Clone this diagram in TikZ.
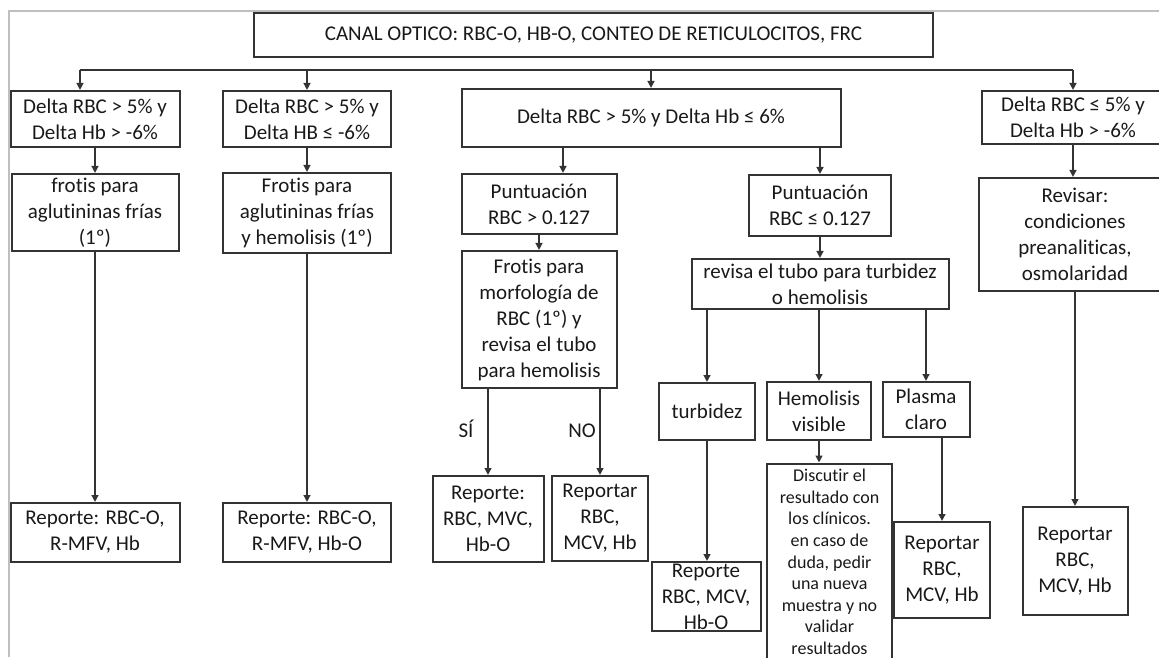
\documentclass[tikz,border=0pt]{standalone}
\usepackage{fontspec}
\setmainfont{Carlito}[Ligatures=NoCommon, RawFeature={-liga;-clig;-calt;-ccmp}]
\usetikzlibrary{arrows.meta}
\tikzset{
  caja/.style 2 args={draw=black!80, line width=1pt, align=center, inner sep=0pt,
    minimum width=#1*0.5pt, minimum height=#2*0.5pt, text=black!90,
    font=\fontsize{10.5}{13}\selectfont},
  flecha/.style={draw=black!80, line width=1pt, -{Triangle[length=3.5pt,width=3.4pt]}},
  linea/.style={draw=black!80, line width=1pt},
  etiqueta/.style={text=black!90, font=\fontsize{10.5}{13}\selectfont}
}
\begin{document}
\begin{tikzpicture}[x=0.5pt,y=-0.5pt]
	\useasboundingbox (0,0) rectangle (1159,657);
	\clip (0,0) rectangle (1159,657);
	\draw[black!25, line width=0.75pt] (9,657) -- (9,11) -- (1159,11); % marco
	% nivel 1
	\node[caja={679}{44}] (canal) at (593.5,35) {CANAL OPTICO: RBC-O, HB-O, CONTEO DE RETICULOCITOS, FRC};
	\node[caja={169}{56}] (a1) at (95,119) {Delta RBC > 5\% y\\Delta Hb > -6\%};
	\node[caja={168}{56}] (b1) at (307,119) {Delta RBC > 5\% y\\Delta HB ≤ -6\%};
	\node[caja={379}{58}] (c1) at (651,118) {Delta RBC > 5\% y Delta Hb ≤ 6\%};
	\node[caja={182}{53}] (d1) at (1073,117.5) {Delta RBC ≤ 5\% y\\Delta Hb > -6\%};
	% nivel 2
	\node[caja={167}{77}] (a2) at (95,212.5) {frotis para\\aglutininas frías\\(1º)};
	\node[caja={168}{80}] (b2) at (307,213) {Frotis para\\aglutininas frías\\y hemolisis (1º)};
	\node[caja={155}{60}] (c2a) at (539,204) {Puntuación\\RBC > 0.127};
	\node[caja={142}{61}] (c2b) at (820,205.5) {Puntuación\\RBC ≤ 0.127};
	\node[caja={192}{113}] (d2) at (1075,234.5) {Revisar:\\condiciones\\preanaliticas,\\osmolaridad};
	% nivel 3
	\node[caja={155}{137}] (c3a) at (539,319.5) {Frotis para\\morfología de\\RBC (1º) y\\revisa el tubo\\para hemolisis};
	\node[caja={257}{50}] (c3b) at (820,284) {revisa el tubo para turbidez\\o hemolisis};
	\node[caja={96}{57}] (turb) at (707,411.5) {turbidez};
	\node[caja={104}{58}] (hemo) at (819,411) {Hemolisis\\visible};
	\node[caja={87}{55}] (plas) at (926,409.5) {Plasma\\claro};
	% reportes
	\node[caja={169}{59}] (a3) at (95,532.5) {Reporte: RBC-O,\\R-MFV, Hb};
	\node[caja={168}{59}] (b3) at (307,532.5) {Reporte: RBC-O,\\R-MFV, Hb-O};
	\node[caja={111}{86}] (c4a) at (488,519) {Reporte:\\RBC, MVC,\\Hb-O};
	\node[caja={96}{85}] (c4b) at (600,518.5) {Reportar\\RBC,\\MCV, Hb};
	\node[caja={109}{69}] (turbr) at (706,596.5) {Reporte\\RBC, MCV,\\Hb-O};
	\node[caja={125}{197}, font=\fontsize{9}{10.8}\selectfont] (disc) at (829.5,562) {Discutir el\\resultado con\\los clínicos.\\en caso de\\duda, pedir\\una nueva\\muestra y no\\validar\\resultados};
	\node[caja={96}{96}] (plasr) at (942,570) {Reportar\\RBC,\\MCV, Hb};
	\node[caja={105}{108}] (d3) at (1075,561) {Reportar\\RBC,\\MCV, Hb};
	\node[etiqueta] (si) at (466,429) {SÍ};
	\node[etiqueta] (no) at (582,431) {NO};
	% conectores
	\coordinate (bus) at (80,70);
	\coordinate (xa) at (563,0);
	\draw[linea] (bus) -- (bus -| d1.north);
	\draw[flecha] (bus) -- (bus |- a1.north);
	\foreach \n in {b1,c1,d1} \draw[flecha] (\n.north |- bus) -- (\n.north);
	\draw[flecha] (a1.south) -- (a1.south |- a2.north);
	\draw[flecha] (a2.south) -- (a2.south |- a3.north);
	\draw[flecha] (b1.south) -- (b2.north);
	\draw[flecha] (b2.south) -- (b3.north);
	\draw[flecha] (c1.south -| xa) -- (c2a.north -| xa);
	\draw[flecha] (c1.south -| c2b.north) -- (c2b.north);
	\draw[flecha] (c2a.south) -- (c3a.north);
	\draw[flecha] (c2b.south) -- (c2b.south |- c3b.north);
	\draw[flecha] (c3a.south -| c4a.north) -- (c4a.north);
	\draw[flecha] (c3a.south -| c4b.north) -- (c4b.north);
	\foreach \n in {turb,hemo,plas} \draw[flecha] (c3b.south -| \n.north) -- (\n.north);
	\draw[flecha] (turb.south) -- (turb.south |- turbr.north);
	\draw[flecha] (hemo.south) -- (hemo.south |- disc.north);
	\draw[flecha] (plas.south -| plasr.north) -- (plasr.north);
	\draw[flecha] (d1.south) -- (d1.south |- d2.north);
	\draw[flecha] (d2.south) -- (d3.north);
\end{tikzpicture}
\end{document}
